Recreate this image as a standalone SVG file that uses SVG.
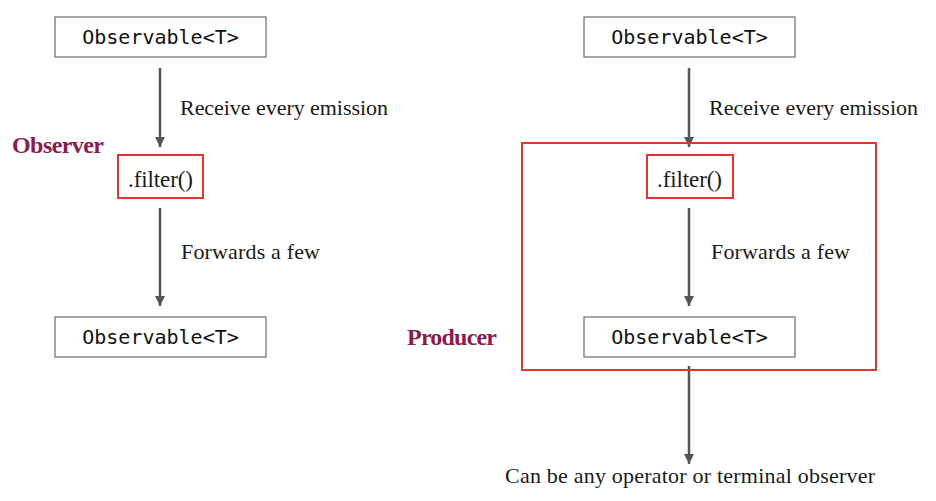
<svg xmlns="http://www.w3.org/2000/svg" width="936" height="501" viewBox="0 0 936 501">
<defs>
<style>
.box{fill:#fff;stroke:#6b6b6b;stroke-width:1.2}
.red{fill:none;stroke:#e0352b;stroke-width:2}
.mono{font-family:"DejaVu Sans Mono","Liberation Mono",monospace;font-size:20px;fill:#111;text-anchor:middle}
.serif{font-family:"Liberation Serif","DejaVu Serif",serif;font-size:22px;fill:#1a1a1a}
.fn{font-family:"Liberation Serif","DejaVu Serif",serif;font-size:23px;fill:#1a1a1a}
.role{font-family:"Liberation Serif","DejaVu Serif",serif;font-size:24px;font-weight:bold;fill:#8a1c50}
.edge{stroke:#555;stroke-width:2.5;fill:none;marker-end:url(#ah)}
</style>
<marker id="ah" viewBox="0 0 10 10" refX="10" refY="5" markerUnits="userSpaceOnUse" markerWidth="10" markerHeight="10" orient="auto">
<path d="M0,0 L10,5 L0,10 z" fill="#555"/>
</marker>
</defs>
<rect width="936" height="501" fill="#fff"/>
<g id="connectors">
<line class="edge" x1="160" y1="68" x2="160" y2="147"/>
<line class="edge" x1="160" y1="208" x2="160" y2="306"/>
<line class="edge" x1="689" y1="68" x2="689" y2="147"/>
<line class="edge" x1="689" y1="208" x2="689" y2="306"/>
<line class="edge" x1="689" y1="366" x2="689" y2="464"/>
</g>
<g id="producer-group">
<rect class="red" x="522" y="143" width="354" height="227"/>
<text class="role" x="407" y="345" textLength="90">Producer</text>
</g>
<g id="left-source">
<rect class="box" x="55" y="17" width="211" height="40"/>
<text class="mono" x="160.5" y="44">Observable&lt;T&gt;</text>
</g>
<g id="left-filter">
<rect class="red" x="118" y="155" width="85" height="43"/>
<text class="fn" x="128" y="187" textLength="65">.filter()</text>
</g>
<g id="left-result">
<rect class="box" x="55" y="317" width="211" height="40"/>
<text class="mono" x="160.5" y="344">Observable&lt;T&gt;</text>
</g>
<g id="left-labels">
<text class="role" x="12" y="153" textLength="92">Observer</text>
<text class="serif" x="180" y="115" textLength="208">Receive every emission</text>
<text class="serif" x="181" y="259" textLength="139">Forwards a few</text>
</g>
<g id="right-source">
<rect class="box" x="584" y="17" width="211" height="40"/>
<text class="mono" x="689.5" y="44">Observable&lt;T&gt;</text>
</g>
<g id="right-filter">
<rect class="red" x="647" y="155" width="86" height="43"/>
<text class="fn" x="657" y="187" textLength="65">.filter()</text>
</g>
<g id="right-result">
<rect class="box" x="584" y="317" width="211" height="40"/>
<text class="mono" x="689.5" y="344">Observable&lt;T&gt;</text>
</g>
<g id="right-labels">
<text class="serif" x="709" y="115" textLength="209">Receive every emission</text>
<text class="serif" x="711" y="259" textLength="139">Forwards a few</text>
<text class="serif" x="505" y="483" textLength="370">Can be any operator or terminal observer</text>
</g>
</svg>
